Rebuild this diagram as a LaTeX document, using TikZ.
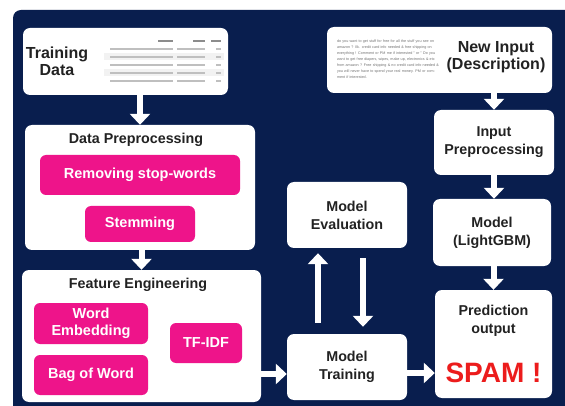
\documentclass[tikz,border=0pt]{standalone}
\usepackage{fontspec}
\setmainfont{Liberation Sans}
\usetikzlibrary{positioning, arrows.meta}

\definecolor{navy}{RGB}{9, 30, 78}
\definecolor{hotpink}{RGB}{238, 20, 138}
\definecolor{spamred}{RGB}{236, 28, 28}
\definecolor{darktext}{RGB}{34, 34, 34}

\tikzset{
    box/.style = {fill = white, rounded corners = 7pt, inner sep = 0pt},
    pinkbox/.style = {fill = hotpink, rounded corners = 6pt, text = white, align = center,
                      font = \bfseries\fontsize{14.5}{17}\selectfont},
    boxtext/.style = {text = darktext, align = center, font = \bfseries\fontsize{14.3}{18}\selectfont},
    bigtext/.style = {text = darktext, align = center, font = \bfseries\fontsize{16}{17}\selectfont},
    fatarrow/.style = {draw = white, line width = 6pt, -{Triangle[length = 11pt, width = 20pt]}},
}

\begin{document}
\begin{tikzpicture}[x = 1pt, y = -1pt]
    \useasboundingbox (0,0) rectangle (565,406);
    \clip (0,0) rectangle (565,406);

    % Draw the background:
    \fill [white] (0,0) rectangle (565,406);
    \fill [navy, rounded corners = 8pt] (13,10) rectangle (580,420);

    % Draw the training data box with its table:
    \node [box, minimum width = 205pt, minimum height = 67pt] (train) at (125.5,61.5) {};
    \node [bigtext] (trainlbl) at (57,61) {Training\\Data};
    \foreach \y in {57, 73}
        \fill [black!5] (104,\y-3.5) rectangle (224,\y+3.5);
    \foreach \y in {49, 57, 65, 73, 81} {
        \draw [black!25, line width = 1.3pt] (110,\y) -- (173,\y);
        \draw [black!25, line width = 1.3pt] (177,\y) -- (205,\y);
        \draw [black!25, line width = 1.3pt] (216,\y) -- (221,\y);
    }
    \foreach \a/\b in {158/173, 193/205, 211/221}
        \draw [black!45, line width = 1.3pt] (\a,41) -- (\b,41);

    % Draw the data preprocessing stage:
    \node [box, minimum width = 230pt, minimum height = 125pt] (prep) at (140,187.5) {};
    \node [boxtext] (preplbl) at (136,140) {Data Preprocessing};
    \node [pinkbox, minimum width = 200pt, minimum height = 40pt] (stop) at (140,175) {Removing stop-words};
    \node [pinkbox, minimum width = 110pt, minimum height = 36pt] (stem) at (140,224) {Stemming};

    % Draw the feature engineering stage:
    \node [box, minimum width = 239pt, minimum height = 132pt] (feat) at (141.5,336) {};
    \node [boxtext] (featlbl) at (138,285) {Feature Engineering};
    \node [pinkbox, minimum width = 114pt, minimum height = 41pt] (embed) at (91,323.5) {Word\\Embedding};
    \node [pinkbox, minimum width = 114pt, minimum height = 40pt] (bow) at (91,375) {Bag of Word};
    \node [pinkbox, minimum width = 72pt, minimum height = 40pt] (tfidf) at (206,343) {TF-IDF};

    % Draw the model training loop:
    \node [box, boxtext, minimum width = 120pt, minimum height = 66pt] (meval) at (347,215) {Model\\Evaluation};
    \node [box, boxtext, minimum width = 120pt, minimum height = 66pt] (mtrain) at (347,367) {Model\\Training};

    % Draw the prediction column:
    \node [box, minimum width = 225pt, minimum height = 66pt] (newin) at (439.5,60) {};
    \node [bigtext] (newinlbl) at (496,57) {New Input\\(Description)};
    \node [text = black!55, align = left, text width = 102pt, inner sep = 0pt,
           font = \fontsize{3.7}{6.1}\selectfont] (desc) at (388,59)
        {do you want to get stuff for free for all the stuff you see on amazon ? Ilk. credit card info needed \& free shipping on everything ! Comment or PM me if interested " or " Do you want to get free diapers, wipes, make up, electronics \& etc from amazon ? Free shipping \& no credit card info needed \& you will never have to spend your real money. PM or comment if interested.};
    \node [box, boxtext, minimum width = 120pt, minimum height = 65pt] (inprep) at (494,142.5) {Input\\Preprocessing};
    \node [box, boxtext, minimum width = 118pt, minimum height = 67pt] (model) at (492,232.5) {Model\\(LightGBM)};
    \node [box, minimum width = 117pt, minimum height = 108pt] (pred) at (493.5,344) {};
    \node [boxtext] (predlbl) at (493.5,321) {Prediction\\output};
    \node [text = spamred, font = \bfseries\fontsize{28}{30}\selectfont] (spam) at (493.5,373) {SPAM !};

    % Draw the arrows:
    \draw [fatarrow] (prep.north |- train.south) -- (prep.north);
    \draw [fatarrow] (feat.north |- prep.south) -- (feat.north);
    \draw [fatarrow] ([yshift = -7pt]feat.east |- mtrain.west) -- ([yshift = -7pt]mtrain.west);
    \draw [fatarrow] ([yshift = -6pt]mtrain.east) -- ([yshift = -6pt]pred.west |- mtrain.east);
    \draw [fatarrow, shorten <= 11pt, shorten >= 5pt] ([xshift = -29pt]mtrain.north) -- ([xshift = -29pt]meval.south);
    \draw [fatarrow, shorten <= 10pt, shorten >= 7pt] ([xshift = 16pt]meval.south) -- ([xshift = 16pt]mtrain.north);
    \draw [fatarrow] (inprep.north |- newin.south) -- (inprep.north);
    \draw [fatarrow] (inprep.south) -- (inprep.south |- model.north);
    \draw [fatarrow] (pred.north |- model.south) -- (pred.north);
\end{tikzpicture}
\end{document}
